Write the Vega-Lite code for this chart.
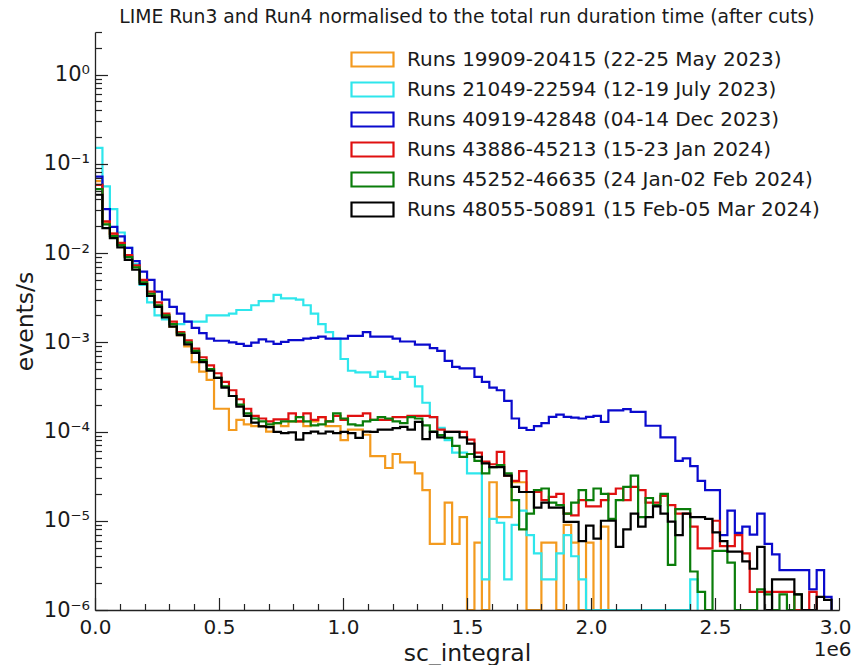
{
  "$schema": "https://vega.github.io/schema/vega-lite/v6.json",
  "width": 744,
  "height": 578,
  "autosize": "none",
  "padding": {"left": 95, "top": 32, "right": 16, "bottom": 55},
  "background": "white",
  "config": {"font": "DejaVu Sans", "view": {"stroke": null}},
  "title": {
    "text": "LIME Run3 and Run4 normalised to the total run duration time (after cuts)",
    "fontSize": 18.8,
    "fontWeight": "normal",
    "color": "#1a1a1a",
    "anchor": "middle",
    "offset": -6
  },
  "data": {
    "values": [
      {"s":"o","x":0,"r":0.064},{"s":"o","x":30000,"r":0.022},{"s":"o","x":60000,"r":0.0165},{"s":"o","x":90000,"r":0.0125},{"s":"o","x":120000,"r":0.0092},
      {"s":"o","x":150000,"r":0.007},{"s":"o","x":180000,"r":0.0047},{"s":"o","x":210000,"r":0.0035},{"s":"o","x":240000,"r":0.0026},{"s":"o","x":270000,"r":0.002},
      {"s":"o","x":300000,"r":0.0015},{"s":"o","x":330000,"r":0.0012},{"s":"o","x":360000,"r":0.0009},{"s":"o","x":390000,"r":0.0006},{"s":"o","x":420000,"r":0.00047},
      {"s":"o","x":450000,"r":0.00038},{"s":"o","x":480000,"r":0.00018},{"s":"o","x":510000,"r":0.00018},{"s":"o","x":540000,"r":0.000104},{"s":"o","x":570000,"r":0.000135},
      {"s":"o","x":600000,"r":0.00012},{"s":"o","x":630000,"r":0.000115},{"s":"o","x":660000,"r":0.000115},{"s":"o","x":690000,"r":0.0001},{"s":"o","x":720000,"r":0.000124},
      {"s":"o","x":750000,"r":0.000115},{"s":"o","x":780000,"r":0.00013},{"s":"o","x":810000,"r":0.00013},{"s":"o","x":840000,"r":0.000115},{"s":"o","x":870000,"r":0.00013},
      {"s":"o","x":900000,"r":0.000145},{"s":"o","x":930000,"r":0.000115},{"s":"o","x":960000,"r":0.000115},{"s":"o","x":990000,"r":0.00008},{"s":"o","x":1020000,"r":0.000105},
      {"s":"o","x":1050000,"r":0.000105},{"s":"o","x":1080000,"r":0.000092},{"s":"o","x":1110000,"r":0.000053},{"s":"o","x":1140000,"r":0.000053},{"s":"o","x":1170000,"r":0.000039},
      {"s":"o","x":1200000,"r":0.000056},{"s":"o","x":1230000,"r":0.000045},{"s":"o","x":1260000,"r":0.000045},{"s":"o","x":1290000,"r":0.000034},{"s":"o","x":1320000,"r":0.000022},
      {"s":"o","x":1350000,"r":0.0000055},{"s":"o","x":1380000,"r":0.0000055},{"s":"o","x":1410000,"r":0.000016},{"s":"o","x":1440000,"r":0.0000055},{"s":"o","x":1470000,"r":0.000011},
      {"s":"o","x":1500000,"r":0},{"s":"o","x":1530000,"r":0.0000057},{"s":"o","x":1560000,"r":0},{"s":"o","x":1590000,"r":0.000027},{"s":"o","x":1620000,"r":0.000011},
      {"s":"o","x":1650000,"r":0.000011},{"s":"o","x":1680000,"r":0.000027},{"s":"o","x":1710000,"r":0.000027},{"s":"o","x":1740000,"r":0},{"s":"o","x":1770000,"r":0},
      {"s":"o","x":1800000,"r":0.0000057},{"s":"o","x":1830000,"r":0.0000057},{"s":"o","x":1860000,"r":0},{"s":"o","x":1890000,"r":0.000009},{"s":"o","x":1920000,"r":0.0000057},
      {"s":"o","x":1950000,"r":0},{"s":"o","x":1980000,"r":0.0000057},{"s":"o","x":2010000,"r":0},{"s":"o","x":2040000,"r":0.0000086},{"s":"o","x":2070000,"r":0},

      {"s":"c","x":0,"r":0.151},{"s":"c","x":30000,"r":0.056},{"s":"c","x":60000,"r":0.031},{"s":"c","x":90000,"r":0.017},{"s":"c","x":120000,"r":0.0114},
      {"s":"c","x":150000,"r":0.0075},{"s":"c","x":180000,"r":0.0044},{"s":"c","x":210000,"r":0.0028},{"s":"c","x":240000,"r":0.002},{"s":"c","x":270000,"r":0.0018},
      {"s":"c","x":300000,"r":0.0016},{"s":"c","x":330000,"r":0.0016},{"s":"c","x":360000,"r":0.0017},{"s":"c","x":390000,"r":0.0017},{"s":"c","x":420000,"r":0.0017},
      {"s":"c","x":450000,"r":0.002},{"s":"c","x":480000,"r":0.002},{"s":"c","x":510000,"r":0.002},{"s":"c","x":540000,"r":0.0021},{"s":"c","x":570000,"r":0.0023},
      {"s":"c","x":600000,"r":0.0023},{"s":"c","x":630000,"r":0.0026},{"s":"c","x":660000,"r":0.0029},{"s":"c","x":690000,"r":0.0029},{"s":"c","x":720000,"r":0.0034},
      {"s":"c","x":750000,"r":0.0031},{"s":"c","x":780000,"r":0.0031},{"s":"c","x":810000,"r":0.003},{"s":"c","x":840000,"r":0.0026},{"s":"c","x":870000,"r":0.0021},
      {"s":"c","x":900000,"r":0.0016},{"s":"c","x":930000,"r":0.0013},{"s":"c","x":960000,"r":0.0011},{"s":"c","x":990000,"r":0.00065},{"s":"c","x":1020000,"r":0.00048},
      {"s":"c","x":1050000,"r":0.00046},{"s":"c","x":1080000,"r":0.00046},{"s":"c","x":1110000,"r":0.00041},{"s":"c","x":1140000,"r":0.00047},{"s":"c","x":1170000,"r":0.00041},
      {"s":"c","x":1200000,"r":0.00039},{"s":"c","x":1230000,"r":0.00046},{"s":"c","x":1260000,"r":0.00041},{"s":"c","x":1290000,"r":0.00032},{"s":"c","x":1320000,"r":0.00021},
      {"s":"c","x":1350000,"r":0.000145},{"s":"c","x":1380000,"r":0.00011},{"s":"c","x":1410000,"r":0.00008},{"s":"c","x":1440000,"r":0.000058},{"s":"c","x":1470000,"r":0.000058},
      {"s":"c","x":1500000,"r":0.000034},{"s":"c","x":1530000,"r":0.000034},{"s":"c","x":1560000,"r":0.0000022},{"s":"c","x":1590000,"r":0.0000105},{"s":"c","x":1620000,"r":0.0000095},
      {"s":"c","x":1650000,"r":0.0000022},{"s":"c","x":1680000,"r":0.000009},{"s":"c","x":1710000,"r":0.000013},{"s":"c","x":1740000,"r":0.0000069},{"s":"c","x":1770000,"r":0.0000043},
      {"s":"c","x":1800000,"r":0.0000022},{"s":"c","x":1830000,"r":0.0000022},{"s":"c","x":1860000,"r":0.0000043},{"s":"c","x":1890000,"r":0.0000069},{"s":"c","x":1920000,"r":0.000004},
      {"s":"c","x":1950000,"r":0.0000022},{"s":"c","x":1980000,"r":0},{"s":"c","x":2370000,"r":0},{"s":"c","x":2400000,"r":0.0000022},{"s":"c","x":2430000,"r":0},

      {"s":"b","x":0,"r":0.072},{"s":"b","x":30000,"r":0.031},{"s":"b","x":60000,"r":0.0196},{"s":"b","x":90000,"r":0.0154},{"s":"b","x":120000,"r":0.0114},
      {"s":"b","x":150000,"r":0.0081},{"s":"b","x":180000,"r":0.0062},{"s":"b","x":210000,"r":0.005},{"s":"b","x":240000,"r":0.0037},{"s":"b","x":270000,"r":0.003},
      {"s":"b","x":300000,"r":0.0025},{"s":"b","x":330000,"r":0.0021},{"s":"b","x":360000,"r":0.0017},{"s":"b","x":390000,"r":0.00145},{"s":"b","x":420000,"r":0.00127},
      {"s":"b","x":450000,"r":0.0011},{"s":"b","x":480000,"r":0.00104},{"s":"b","x":510000,"r":0.00104},{"s":"b","x":540000,"r":0.001},{"s":"b","x":570000,"r":0.00096},
      {"s":"b","x":600000,"r":0.00091},{"s":"b","x":630000,"r":0.00099},{"s":"b","x":660000,"r":0.00108},{"s":"b","x":690000,"r":0.00102},{"s":"b","x":720000,"r":0.00096},
      {"s":"b","x":750000,"r":0.00101},{"s":"b","x":780000,"r":0.00106},{"s":"b","x":810000,"r":0.00106},{"s":"b","x":840000,"r":0.0011},{"s":"b","x":870000,"r":0.00112},
      {"s":"b","x":900000,"r":0.00116},{"s":"b","x":930000,"r":0.0011},{"s":"b","x":960000,"r":0.0011},{"s":"b","x":990000,"r":0.0011},{"s":"b","x":1020000,"r":0.00118},
      {"s":"b","x":1050000,"r":0.00118},{"s":"b","x":1080000,"r":0.0013},{"s":"b","x":1110000,"r":0.00116},{"s":"b","x":1140000,"r":0.00116},{"s":"b","x":1170000,"r":0.00116},
      {"s":"b","x":1200000,"r":0.0011},{"s":"b","x":1230000,"r":0.00102},{"s":"b","x":1260000,"r":0.00102},{"s":"b","x":1290000,"r":0.00094},{"s":"b","x":1320000,"r":0.00094},
      {"s":"b","x":1350000,"r":0.00086},{"s":"b","x":1380000,"r":0.0008},{"s":"b","x":1410000,"r":0.00062},{"s":"b","x":1440000,"r":0.00053},{"s":"b","x":1470000,"r":0.00051},
      {"s":"b","x":1500000,"r":0.00051},{"s":"b","x":1530000,"r":0.00041},{"s":"b","x":1560000,"r":0.00036},{"s":"b","x":1590000,"r":0.00031},{"s":"b","x":1620000,"r":0.00029},
      {"s":"b","x":1650000,"r":0.00022},{"s":"b","x":1680000,"r":0.00014},{"s":"b","x":1710000,"r":0.00011},{"s":"b","x":1740000,"r":0.000104},{"s":"b","x":1770000,"r":0.000115},
      {"s":"b","x":1800000,"r":0.000124},{"s":"b","x":1830000,"r":0.000146},{"s":"b","x":1860000,"r":0.000155},{"s":"b","x":1890000,"r":0.000146},{"s":"b","x":1920000,"r":0.000143},
      {"s":"b","x":1950000,"r":0.00014},{"s":"b","x":1980000,"r":0.000146},{"s":"b","x":2010000,"r":0.00015},{"s":"b","x":2040000,"r":0.000128},{"s":"b","x":2070000,"r":0.000173},
      {"s":"b","x":2100000,"r":0.000173},{"s":"b","x":2130000,"r":0.000178},{"s":"b","x":2160000,"r":0.000166},{"s":"b","x":2190000,"r":0.000166},{"s":"b","x":2220000,"r":0.000116},
      {"s":"b","x":2250000,"r":0.000116},{"s":"b","x":2280000,"r":0.000086},{"s":"b","x":2310000,"r":0.000086},{"s":"b","x":2340000,"r":0.000047},{"s":"b","x":2370000,"r":0.00005},
      {"s":"b","x":2400000,"r":0.000041},{"s":"b","x":2430000,"r":0.000028},{"s":"b","x":2460000,"r":0.000022},{"s":"b","x":2490000,"r":0.000022},{"s":"b","x":2520000,"r":0.0000069},
      {"s":"b","x":2550000,"r":0.000013},{"s":"b","x":2580000,"r":0.0000073},{"s":"b","x":2610000,"r":0.0000086},{"s":"b","x":2640000,"r":0.000007},{"s":"b","x":2670000,"r":0.000012},
      {"s":"b","x":2700000,"r":0.0000055},{"s":"b","x":2730000,"r":0.0000042},{"s":"b","x":2760000,"r":0.0000028},{"s":"b","x":2790000,"r":0.0000028},{"s":"b","x":2820000,"r":0.0000028},
      {"s":"b","x":2850000,"r":0.0000028},{"s":"b","x":2880000,"r":0.0000017},{"s":"b","x":2910000,"r":0.0000028},{"s":"b","x":2940000,"r":0.0000014},{"s":"b","x":2970000,"r":0},

      {"s":"r","x":0,"r":0.058},{"s":"r","x":30000,"r":0.0226},{"s":"r","x":60000,"r":0.0165},{"s":"r","x":90000,"r":0.013},{"s":"r","x":120000,"r":0.0095},
      {"s":"r","x":150000,"r":0.0073},{"s":"r","x":180000,"r":0.005},{"s":"r","x":210000,"r":0.0037},{"s":"r","x":240000,"r":0.0028},{"s":"r","x":270000,"r":0.0021},
      {"s":"r","x":300000,"r":0.0017},{"s":"r","x":330000,"r":0.0013},{"s":"r","x":360000,"r":0.00105},{"s":"r","x":390000,"r":0.00085},{"s":"r","x":420000,"r":0.00068},
      {"s":"r","x":450000,"r":0.00055},{"s":"r","x":480000,"r":0.00045},{"s":"r","x":510000,"r":0.00036},{"s":"r","x":540000,"r":0.00029},{"s":"r","x":570000,"r":0.00023},
      {"s":"r","x":600000,"r":0.00018},{"s":"r","x":630000,"r":0.00015},{"s":"r","x":660000,"r":0.00014},{"s":"r","x":690000,"r":0.00013},{"s":"r","x":720000,"r":0.000137},
      {"s":"r","x":750000,"r":0.000137},{"s":"r","x":780000,"r":0.00016},{"s":"r","x":810000,"r":0.00013},{"s":"r","x":840000,"r":0.00016},{"s":"r","x":870000,"r":0.000135},
      {"s":"r","x":900000,"r":0.000145},{"s":"r","x":930000,"r":0.00013},{"s":"r","x":960000,"r":0.00015},{"s":"r","x":990000,"r":0.000135},{"s":"r","x":1020000,"r":0.00015},
      {"s":"r","x":1050000,"r":0.00015},{"s":"r","x":1080000,"r":0.00016},{"s":"r","x":1110000,"r":0.000135},{"s":"r","x":1140000,"r":0.000135},{"s":"r","x":1170000,"r":0.000135},
      {"s":"r","x":1200000,"r":0.000145},{"s":"r","x":1230000,"r":0.000145},{"s":"r","x":1260000,"r":0.00015},{"s":"r","x":1290000,"r":0.00015},{"s":"r","x":1320000,"r":0.00015},
      {"s":"r","x":1350000,"r":0.000145},{"s":"r","x":1380000,"r":0.000105},{"s":"r","x":1410000,"r":0.000099},{"s":"r","x":1440000,"r":0.000099},{"s":"r","x":1470000,"r":0.000099},
      {"s":"r","x":1500000,"r":0.000081},{"s":"r","x":1530000,"r":0.000058},{"s":"r","x":1560000,"r":0.000046},{"s":"r","x":1590000,"r":0.000043},{"s":"r","x":1620000,"r":0.000059},
      {"s":"r","x":1650000,"r":0.000032},{"s":"r","x":1680000,"r":0.000028},{"s":"r","x":1710000,"r":0.000036},{"s":"r","x":1740000,"r":0.000021},{"s":"r","x":1770000,"r":0.000021},
      {"s":"r","x":1800000,"r":0.000017},{"s":"r","x":1830000,"r":0.0000185},{"s":"r","x":1860000,"r":0.00002},{"s":"r","x":1890000,"r":0.000012},{"s":"r","x":1920000,"r":0.0000115},
      {"s":"r","x":1950000,"r":0.000017},{"s":"r","x":1980000,"r":0.0000145},{"s":"r","x":2010000,"r":0.0000145},{"s":"r","x":2040000,"r":0.000017},{"s":"r","x":2070000,"r":0.00002},
      {"s":"r","x":2100000,"r":0.000023},{"s":"r","x":2130000,"r":0.000017},{"s":"r","x":2160000,"r":0.000024},{"s":"r","x":2190000,"r":0.000022},{"s":"r","x":2220000,"r":0.000016},
      {"s":"r","x":2250000,"r":0.000016},{"s":"r","x":2280000,"r":0.000019},{"s":"r","x":2310000,"r":0.000015},{"s":"r","x":2340000,"r":0.000012},{"s":"r","x":2370000,"r":0.000012},
      {"s":"r","x":2400000,"r":0.0000086},{"s":"r","x":2430000,"r":0.0000049},{"s":"r","x":2460000,"r":0.0000049},{"s":"r","x":2490000,"r":0.00001},{"s":"r","x":2520000,"r":0.0000052},
      {"s":"r","x":2550000,"r":0.0000052},{"s":"r","x":2580000,"r":0.0000069},{"s":"r","x":2610000,"r":0.0000043},{"s":"r","x":2640000,"r":0.0000016},{"s":"r","x":2670000,"r":0.0000016},
      {"s":"r","x":2700000,"r":0.0000016},{"s":"r","x":2730000,"r":0.0000016},{"s":"r","x":2760000,"r":0.0000016},{"s":"r","x":2790000,"r":0.0000016},{"s":"r","x":2820000,"r":0},
      {"s":"r","x":2850000,"r":0},{"s":"r","x":2880000,"r":0.0000016},{"s":"r","x":2910000,"r":0},

      {"s":"g","x":0,"r":0.052},{"s":"g","x":30000,"r":0.021},{"s":"g","x":60000,"r":0.0155},{"s":"g","x":90000,"r":0.0123},{"s":"g","x":120000,"r":0.009},
      {"s":"g","x":150000,"r":0.0069},{"s":"g","x":180000,"r":0.0047},{"s":"g","x":210000,"r":0.0035},{"s":"g","x":240000,"r":0.0026},{"s":"g","x":270000,"r":0.002},
      {"s":"g","x":300000,"r":0.0016},{"s":"g","x":330000,"r":0.00125},{"s":"g","x":360000,"r":0.001},{"s":"g","x":390000,"r":0.0008},{"s":"g","x":420000,"r":0.00063},
      {"s":"g","x":450000,"r":0.0005},{"s":"g","x":480000,"r":0.0004},{"s":"g","x":510000,"r":0.00032},{"s":"g","x":540000,"r":0.00025},{"s":"g","x":570000,"r":0.0002},
      {"s":"g","x":600000,"r":0.00016},{"s":"g","x":630000,"r":0.00014},{"s":"g","x":660000,"r":0.00013},{"s":"g","x":690000,"r":0.00012},{"s":"g","x":720000,"r":0.000124},
      {"s":"g","x":750000,"r":0.00013},{"s":"g","x":780000,"r":0.00013},{"s":"g","x":810000,"r":0.000145},{"s":"g","x":840000,"r":0.00013},{"s":"g","x":870000,"r":0.000117},
      {"s":"g","x":900000,"r":0.00012},{"s":"g","x":930000,"r":0.00013},{"s":"g","x":960000,"r":0.00016},{"s":"g","x":990000,"r":0.00014},{"s":"g","x":1020000,"r":0.00012},
      {"s":"g","x":1050000,"r":0.000117},{"s":"g","x":1080000,"r":0.00013},{"s":"g","x":1110000,"r":0.000135},{"s":"g","x":1140000,"r":0.000145},{"s":"g","x":1170000,"r":0.00014},
      {"s":"g","x":1200000,"r":0.00013},{"s":"g","x":1230000,"r":0.000124},{"s":"g","x":1260000,"r":0.000145},{"s":"g","x":1290000,"r":0.00014},{"s":"g","x":1320000,"r":0.000117},
      {"s":"g","x":1350000,"r":0.0001},{"s":"g","x":1380000,"r":0.000091},{"s":"g","x":1410000,"r":0.000085},{"s":"g","x":1440000,"r":0.000069},{"s":"g","x":1470000,"r":0.000052},
      {"s":"g","x":1500000,"r":0.000056},{"s":"g","x":1530000,"r":0.000047},{"s":"g","x":1560000,"r":0.000034},{"s":"g","x":1590000,"r":0.00004},{"s":"g","x":1620000,"r":0.000042},
      {"s":"g","x":1650000,"r":0.000034},{"s":"g","x":1680000,"r":0.000017},{"s":"g","x":1710000,"r":0.000008},{"s":"g","x":1740000,"r":0.000012},{"s":"g","x":1770000,"r":0.000022},
      {"s":"g","x":1800000,"r":0.000023},{"s":"g","x":1830000,"r":0.000016},{"s":"g","x":1860000,"r":0.000015},{"s":"g","x":1890000,"r":0.000012},{"s":"g","x":1920000,"r":0.000016},
      {"s":"g","x":1950000,"r":0.000022},{"s":"g","x":1980000,"r":0.000017},{"s":"g","x":2010000,"r":0.000023},{"s":"g","x":2040000,"r":0.00002},{"s":"g","x":2070000,"r":0.0000105},
      {"s":"g","x":2100000,"r":0.000017},{"s":"g","x":2130000,"r":0.000024},{"s":"g","x":2160000,"r":0.000032},{"s":"g","x":2190000,"r":0.000011},{"s":"g","x":2220000,"r":0.000018},
      {"s":"g","x":2250000,"r":0.000015},{"s":"g","x":2280000,"r":0.00002},{"s":"g","x":2310000,"r":0.0000032},{"s":"g","x":2340000,"r":0.0000135},{"s":"g","x":2370000,"r":0.0000135},
      {"s":"g","x":2400000,"r":0.0000027},{"s":"g","x":2430000,"r":0.0000016},{"s":"g","x":2460000,"r":0},{"s":"g","x":2490000,"r":0.0000046},{"s":"g","x":2520000,"r":0.0000046},
      {"s":"g","x":2550000,"r":0.0000034},{"s":"g","x":2580000,"r":0},{"s":"g","x":2610000,"r":0},{"s":"g","x":2640000,"r":0},{"s":"g","x":2670000,"r":0.0000017},
      {"s":"g","x":2700000,"r":0.0000015},{"s":"g","x":2730000,"r":0},{"s":"g","x":2760000,"r":0.0000015},{"s":"g","x":2790000,"r":0},{"s":"g","x":2820000,"r":0.0000015},
      {"s":"g","x":2850000,"r":0},

      {"s":"k","x":0,"r":0.045},{"s":"k","x":30000,"r":0.019},{"s":"k","x":60000,"r":0.0147},{"s":"k","x":90000,"r":0.0116},{"s":"k","x":120000,"r":0.0084},
      {"s":"k","x":150000,"r":0.0065},{"s":"k","x":180000,"r":0.0045},{"s":"k","x":210000,"r":0.0033},{"s":"k","x":240000,"r":0.0025},{"s":"k","x":270000,"r":0.0019},
      {"s":"k","x":300000,"r":0.0015},{"s":"k","x":330000,"r":0.0012},{"s":"k","x":360000,"r":0.00095},{"s":"k","x":390000,"r":0.00076},{"s":"k","x":420000,"r":0.0006},
      {"s":"k","x":450000,"r":0.00048},{"s":"k","x":480000,"r":0.0004},{"s":"k","x":510000,"r":0.00031},{"s":"k","x":540000,"r":0.00025},{"s":"k","x":570000,"r":0.00019},
      {"s":"k","x":600000,"r":0.00015},{"s":"k","x":630000,"r":0.000126},{"s":"k","x":660000,"r":0.000114},{"s":"k","x":690000,"r":0.000112},{"s":"k","x":720000,"r":0.000099},
      {"s":"k","x":750000,"r":0.000096},{"s":"k","x":780000,"r":0.000098},{"s":"k","x":810000,"r":0.000081},{"s":"k","x":840000,"r":0.000096},{"s":"k","x":870000,"r":0.0001},
      {"s":"k","x":900000,"r":0.000095},{"s":"k","x":930000,"r":0.0001},{"s":"k","x":960000,"r":0.000096},{"s":"k","x":990000,"r":0.000099},{"s":"k","x":1020000,"r":0.000096},
      {"s":"k","x":1050000,"r":0.000085},{"s":"k","x":1080000,"r":0.0001},{"s":"k","x":1110000,"r":0.000099},{"s":"k","x":1140000,"r":0.000105},{"s":"k","x":1170000,"r":0.000105},
      {"s":"k","x":1200000,"r":0.000109},{"s":"k","x":1230000,"r":0.000113},{"s":"k","x":1260000,"r":0.000105},{"s":"k","x":1290000,"r":0.000128},{"s":"k","x":1320000,"r":0.000082},
      {"s":"k","x":1350000,"r":0.000099},{"s":"k","x":1380000,"r":0.000086},{"s":"k","x":1410000,"r":0.000099},{"s":"k","x":1440000,"r":0.000099},{"s":"k","x":1470000,"r":0.000086},
      {"s":"k","x":1500000,"r":0.000073},{"s":"k","x":1530000,"r":0.000052},{"s":"k","x":1560000,"r":0.000044},{"s":"k","x":1590000,"r":0.00004},{"s":"k","x":1620000,"r":0.00004},
      {"s":"k","x":1650000,"r":0.000032},{"s":"k","x":1680000,"r":0.000024},{"s":"k","x":1710000,"r":0.000021},{"s":"k","x":1740000,"r":0.000021},{"s":"k","x":1770000,"r":0.000014},
      {"s":"k","x":1800000,"r":0.000016},{"s":"k","x":1830000,"r":0.000014},{"s":"k","x":1860000,"r":0.000014},{"s":"k","x":1890000,"r":0.0000097},{"s":"k","x":1920000,"r":0.0000097},
      {"s":"k","x":1950000,"r":0.0000059},{"s":"k","x":1980000,"r":0.0000088},{"s":"k","x":2010000,"r":0.0000063},{"s":"k","x":2040000,"r":0.00001},{"s":"k","x":2070000,"r":0.00001},
      {"s":"k","x":2100000,"r":0.0000051},{"s":"k","x":2130000,"r":0.000008},{"s":"k","x":2160000,"r":0.000012},{"s":"k","x":2190000,"r":0.0000086},{"s":"k","x":2220000,"r":0.000011},
      {"s":"k","x":2250000,"r":0.0000145},{"s":"k","x":2280000,"r":0.000012},{"s":"k","x":2310000,"r":0.0000098},{"s":"k","x":2340000,"r":0.0000069},{"s":"k","x":2370000,"r":0.000012},
      {"s":"k","x":2400000,"r":0.000011},{"s":"k","x":2430000,"r":0.000011},{"s":"k","x":2460000,"r":0.0000105},{"s":"k","x":2490000,"r":0.0000074},{"s":"k","x":2520000,"r":0.0000059},
      {"s":"k","x":2550000,"r":0.0000045},{"s":"k","x":2580000,"r":0.0000045},{"s":"k","x":2610000,"r":0.0000035},{"s":"k","x":2640000,"r":0.0000029},{"s":"k","x":2670000,"r":0.0000051},
      {"s":"k","x":2700000,"r":0},{"s":"k","x":2730000,"r":0.0000022},{"s":"k","x":2760000,"r":0.0000022},{"s":"k","x":2790000,"r":0.0000022},{"s":"k","x":2820000,"r":0.0000015},
      {"s":"k","x":2850000,"r":0},{"s":"k","x":2880000,"r":0},{"s":"k","x":2910000,"r":0.0000014},{"s":"k","x":2940000,"r":0.0000013},{"s":"k","x":2970000,"r":0}
    ]
  },
  "mark": {"type": "line", "interpolate": "step-after", "strokeWidth": 2.2, "clip": true},
  "encoding": {
    "x": {
      "field": "x",
      "type": "quantitative",
      "scale": {"domain": [0, 3000000], "nice": false, "zero": false},
      "axis": {
        "title": "sc_integral",
        "titleFontSize": 23.5,
        "titleFontWeight": "normal",
        "titleColor": "#1a1a1a",
        "titleBaseline": "middle",
        "titleY": 43,
        "values": [0,100000,200000,300000,400000,500000,600000,700000,800000,900000,1000000,1100000,1200000,1300000,1400000,1500000,1600000,1700000,1800000,1900000,2000000,2100000,2200000,2300000,2400000,2500000,2600000,2700000,2800000,2900000,3000000],
        "labelExpr": "datum.value % 500000 == 0 ? (datum.value == 3000000 ? ['3.0', '1e6'] : format(datum.value / 1000000, '.1f')) : ''",
        "labelFontSize": 20,
        "labelColor": "#1a1a1a",
        "labelLineHeight": 22,
        "labelPadding": 20,
        "labelAlign": {"condition": {"test": "datum.value == 3000000", "value": "right"}, "value": "center"},
        "labelOffset": {"condition": {"test": "datum.value == 3000000", "value": 12}, "value": 0},
        "labelFlush": false,
        "labelOverlap": false,
        "labelBound": false,
        "grid": false,
        "domainColor": "#222",
        "domainWidth": 1.3,
        "tickColor": "#222",
        "tickWidth": 1.2,
        "tickSize": {"condition": {"test": "datum.value % 500000 == 0", "value": -12.5}, "value": -6.5},
        "zindex": 1
      }
    },
    "y": {
      "field": "r",
      "type": "quantitative",
      "scale": {"type": "log", "domain": [0.000001, 3], "clamp": true, "nice": false},
      "axis": {
        "title": "events/s",
        "titleFontSize": 23.5,
        "titleFontWeight": "normal",
        "titleColor": "#1a1a1a",
        "titleX": -70,
        "titleY": 289,
        "titleBaseline": "middle",
        "titleAlign": "center",
        "values": [0.000001,0.000002,0.000003,0.000004,0.000005,0.000006,0.000007,0.000008,0.000009,
                   0.00001,0.00002,0.00003,0.00004,0.00005,0.00006,0.00007,0.00008,0.00009,
                   0.0001,0.0002,0.0003,0.0004,0.0005,0.0006,0.0007,0.0008,0.0009,
                   0.001,0.002,0.003,0.004,0.005,0.006,0.007,0.008,0.009,
                   0.01,0.02,0.03,0.04,0.05,0.06,0.07,0.08,0.09,
                   0.1,0.2,0.3,0.4,0.5,0.6,0.7,0.8,0.9,
                   1,2,3],
        "labelExpr": "abs(log(datum.value) / LN10 - round(log(datum.value) / LN10)) < 0.001 ? (round(log(datum.value) / LN10) == 0 ? '10⁰' : '10⁻' + ['', '¹', '²', '³', '⁴', '⁵', '⁶'][-round(log(datum.value) / LN10)]) : ''",
        "labelFontSize": 21,
        "labelColor": "#1a1a1a",
        "labelPadding": 18,
        "labelOverlap": false,
        "labelBound": false,
        "labelFlush": false,
        "grid": false,
        "domainColor": "#222",
        "domainWidth": 1.3,
        "tickColor": "#222",
        "tickWidth": 1.2,
        "tickSize": {"condition": {"test": "abs(log(datum.value) / LN10 - round(log(datum.value) / LN10)) < 0.001", "value": -12.5}, "value": -6.5},
        "zindex": 1
      }
    },
    "color": {
      "field": "s",
      "type": "nominal",
      "scale": {
        "domain": ["o", "c", "b", "r", "g", "k"],
        "range": ["#f39a1e", "#2ee6ec", "#0a0acd", "#e01010", "#0a7d0a", "#000000"]
      },
      "legend": {
        "orient": "none",
        "legendX": 266,
        "legendY": 16,
        "title": null,
        "padding": 0,
        "labelExpr": "{'o': 'Runs 19909-20415 (22-25 May 2023)', 'c': 'Runs 21049-22594 (12-19 July 2023)', 'b': 'Runs 40919-42848 (04-14 Dec 2023)', 'r': 'Runs 43886-45213 (15-23 Jan 2024)', 'g': 'Runs 45252-46635 (24 Jan-02 Feb 2024)', 'k': 'Runs 48055-50891 (15 Feb-05 Mar 2024)'}[datum.value]",
        "labelFontSize": 20,
        "labelColor": "#1a1a1a",
        "labelOffset": 23,
        "labelLimit": 500,
        "symbolType": "M-2.1,-0.7H2.1V0.7H-2.1Z",
        "symbolSize": 400,
        "symbolStrokeWidth": 2.2,
        "symbolFillColor": "transparent",
        "rowPadding": 7
      }
    }
  }
}
